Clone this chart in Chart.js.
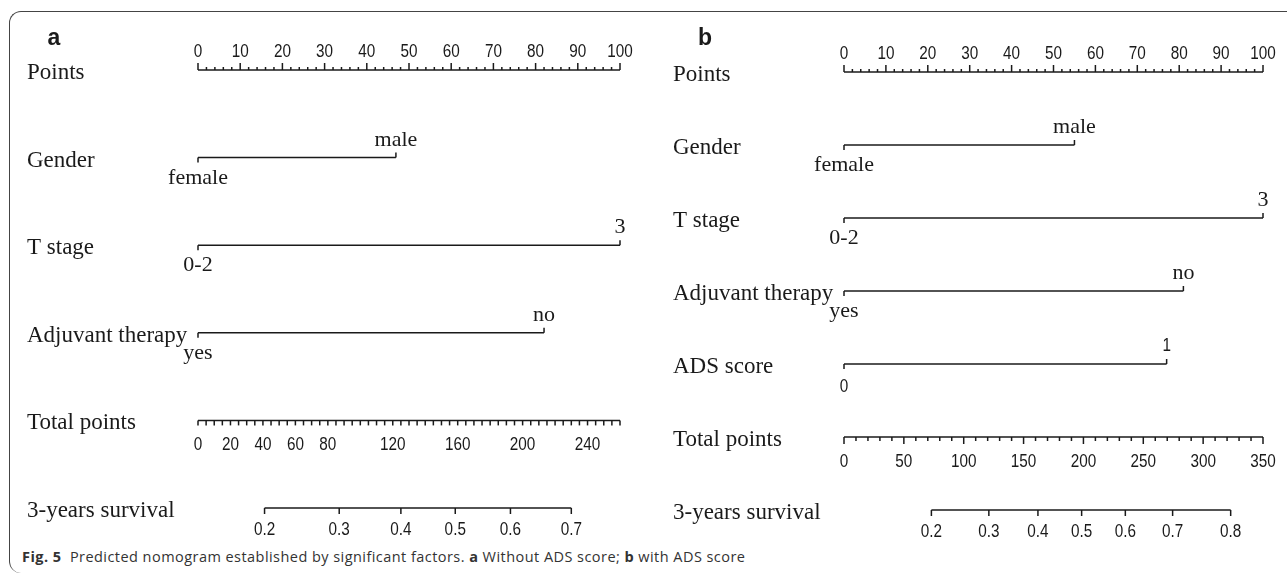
<!DOCTYPE html>
<html>
<head>
<meta charset="utf-8">
<script src="https://cdn.jsdelivr.net/npm/chart.js@4.4.0/dist/chart.umd.min.js"></script>
<style>
body{margin:0;background:#fff;width:1287px;height:575px;overflow:hidden;position:relative;}
#frame{position:absolute;left:9px;top:11px;width:1300px;height:561px;border-left:1.5px solid #444;border-top:1.5px solid #444;border-radius:12px 0 0 12px;}
.box{position:absolute;top:0;height:545px;}
#cap{position:absolute;left:22px;top:547px;font:14.5px 'Open Sans',sans-serif;letter-spacing:0.45px;white-space:nowrap;color:#333;}
</style>
</head>
<body>
<div id="frame"></div>
<div class="box" style="left:0;width:640px"><canvas id="ca"></canvas></div>
<div class="box" style="left:640px;width:647px"><canvas id="cb"></canvas></div>
<div id="cap"><b>Fig. 5</b>&nbsp; Predicted nomogram established by significant factors. <b>a</b> Without ADS score; <b>b</b> with ADS score</div>
<script>
var pointTicks = [0,10,20,30,40,50,60,70,80,90,100];

// a: without ADS score
var factorsA = ['Gender','T stage','Adjuvant therapy'];
var levelsA = [['female','male'],['0-2','3'],['yes','no']];
var pointsA = [[0,46.9],[0,100],[0,82]];
var totalTicksA = [0,20,40,60,80,120,160,200,240];
var totalMaxA = 260;
var survivalA = [0.2,0.3,0.4,0.5,0.6,0.7];
var survivalAtA = [41,87,125,158.5,192.5,230];

// b: with ADS score
var factorsB = ['Gender','T stage','Adjuvant therapy','ADS score'];
var levelsB = [['female','male'],['0-2','3'],['yes','no'],['0','1']];
var pointsB = [[0,55],[0,100],[0,81],[0,77]];
var totalTicksB = [0,50,100,150,200,250,300,350];
var totalMaxB = 350;
var survivalB = [0.2,0.3,0.4,0.5,0.6,0.7,0.8];
var survivalAtB = [73,121,162,198.5,235,274.5,323];

var ink = '#1a1a1a';
var serif = '23px "Liberation Serif", "Times New Roman", serif';
var serifSm = '22px "Liberation Serif", "Times New Roman", serif';
var sans = '18px "Liberation Sans", Arial, sans-serif';

// narrow numbers, like the squeezed Arial of the original
function narrow(ctx, s, x, y) {
  ctx.save();
  ctx.translate(x, y);
  ctx.scale(0.85, 1);
  ctx.fillText(s, 0, 0);
  ctx.restore();
}

var nomoPlugin = {
  id: 'nomo',
  afterDatasetsDraw: function(chart, args, o) {
    var ctx = chart.ctx, xs = chart.scales.x, ts = chart.scales.t, ys = chart.scales.y;
    var n = o.factors.length;
    ctx.save();
    ctx.strokeStyle = ink; ctx.fillStyle = ink; ctx.lineWidth = 1.5;
    function tick(x, y, len) { ctx.beginPath(); ctx.moveTo(x, y); ctx.lineTo(x, y + len); ctx.stroke(); }

    // panel letter
    ctx.font = 'bold 23px "Liberation Sans", Arial, sans-serif';
    ctx.textAlign = 'center'; ctx.textBaseline = 'alphabetic';
    ctx.fillText(o.tag, o.tagX, 45);

    // row names
    var names = ['Points'].concat(o.factors, ['Total points', '3-years survival']);
    ctx.font = serif; ctx.textAlign = 'left'; ctx.textBaseline = 'middle';
    names.forEach(function(s, i) { ctx.fillText(s, o.labelX, ys.getPixelForValue(i) + 3); });

    // points axis, ticks up, labels above
    var y0 = ys.getPixelForValue(0);
    for (var v = 0; v <= 100; v += 2) tick(xs.getPixelForValue(v), y0, v % 10 === 0 ? -7 : -3);
    ctx.font = sans; ctx.textAlign = 'center'; ctx.textBaseline = 'alphabetic';
    pointTicks.forEach(function(v) { narrow(ctx, String(v), xs.getPixelForValue(v), y0 - 13); });

    // factor lines: end ticks and level labels
    o.factors.forEach(function(f, i) {
      var y = ys.getPixelForValue(i + 1), p = o.points[i], lv = o.levels[i];
      var xl = xs.getPixelForValue(p[0]), xr = xs.getPixelForValue(p[1]);
      tick(xl, y, 5); tick(xr, y, -5);
      if (o.levelFonts[i] === 'sans') {
        ctx.font = sans;
        narrow(ctx, lv[0], xl, y + 28);
        narrow(ctx, lv[1], xr, y - 13);
      } else {
        ctx.font = serifSm;
        ctx.fillText(lv[0], xl, y + 26);
        ctx.fillText(lv[1], xr, y - 12);
      }
    });

    // total points axis, ticks down, labels below
    var yt = ys.getPixelForValue(n + 1);
    for (var t = 0; t <= o.totalMax; t += o.totalMinor) {
      tick(ts.getPixelForValue(t), yt, t % o.totalMajor === 0 ? o.majorLen : o.minorLen);
    }
    ctx.font = sans;
    o.totalTicks.forEach(function(v) { narrow(ctx, String(v), ts.getPixelForValue(v), yt + 30); });

    // survival axis
    var ys2 = ys.getPixelForValue(n + 2);
    o.survAt.forEach(function(p, i) {
      var x = ts.getPixelForValue(p);
      tick(x, ys2, 6);
      narrow(ctx, o.surv[i].toFixed(1), x, ys2 + 27);
    });
    ctx.restore();
  }
};

function line(pts, row, axis) {
  return {
    data: pts.map(function(p) { return { x: p, y: row }; }),
    xAxisID: axis, showLine: true, borderColor: ink, borderWidth: 1.5,
    pointRadius: 0, clip: false, fill: false
  };
}

function nomogram(id, cfg) {
  var n = cfg.factors.length;
  var sets = [line([0, 100], 0, 'x')];
  cfg.points.forEach(function(p, i) { sets.push(line(p, i + 1, 'x')); });
  sets.push(line([0, cfg.totalMax], n + 1, 't'));
  sets.push(line(cfg.survAt, n + 2, 't'));
  return new Chart(document.getElementById(id), {
    type: 'scatter',
    data: { datasets: sets },
    plugins: [nomoPlugin],
    options: {
      responsive: true, maintainAspectRatio: false, animation: false,
      layout: { padding: cfg.pad },
      plugins: { legend: { display: false }, tooltip: { enabled: false }, nomo: cfg },
      scales: {
        x: { type: 'linear', min: 0, max: 100, display: false },
        t: { type: 'linear', axis: 'x', position: 'bottom', min: 0, max: cfg.totalMax, display: false },
        y: { type: 'linear', min: 0, max: n + 2, reverse: true, display: false }
      }
    }
  });
}

nomogram('ca', {
  tag: 'a', tagX: 54,
  factors: factorsA, levels: levelsA, points: pointsA, levelFonts: ['serif','serif','serif'],
  totalTicks: totalTicksA, totalMax: totalMaxA, totalMinor: 5, totalMajor: 5, majorLen: 5, minorLen: 5,
  surv: survivalA, survAt: survivalAtA, labelX: 27,
  pad: { left: 198, right: 20, top: 70, bottom: 37 }
});

nomogram('cb', {
  tag: 'b', tagX: 65,
  factors: factorsB, levels: levelsB, points: pointsB, levelFonts: ['serif','serif','serif','sans'],
  totalTicks: totalTicksB, totalMax: totalMaxB, totalMinor: 10, totalMajor: 50, majorLen: 7, minorLen: 4,
  surv: survivalB, survAt: survivalAtB, labelX: 33,
  pad: { left: 204, right: 24, top: 72, bottom: 35 }
});
</script>
</body>
</html>
